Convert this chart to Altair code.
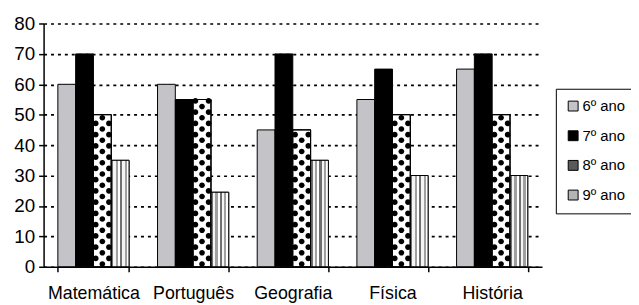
import altair as alt
import pandas as pd

subjects = ["Matemática", "Português", "Geografia", "Física", "História"]
series = ["6º ano", "7º ano", "8º ano", "9º ano"]
v6 = [60, 60, 45, 55, 65]
v7 = [70, 55, 70, 65, 70]
v8 = [50, 55, 45, 50, 50]
v9 = [35, 24.5, 35, 30, 30]

rows = []
for i, s in enumerate(subjects):
    for name, vals in zip(series, [v6, v7, v8, v9]):
        rows.append({"disciplina": s, "serie": name, "valor": vals[i]})
df = pd.DataFrame(rows)

# dot pattern for the 8º ano bars (decoration, derived from the bar values)
pitch = 1.85
dots_c, dots_s = [], []
for i, s in enumerate(subjects):
    k = 0
    while 0.9 + k * pitch < v8[i] - 0.4:
        y = 0.9 + k * pitch
        rec = {"disciplina": s, "serie": "8º ano", "valor": y}
        (dots_c if k % 2 == 0 else dots_s).append(rec)
        k += 1
dc = pd.DataFrame(dots_c)
ds = pd.DataFrame(dots_s)

# symbol shapes in the unit box [-1, 1]; size 324 -> box of 18 px
r = 0.32
def circ(cx):
    return (f"M {cx - r},0 A {r},{r} 0 1,0 {cx + r},0 A {r},{r} 0 1,0 {cx - r},0 Z ")
shape_c = circ(0)
shape_s = circ(-0.74) + circ(0.74)

font = "Liberation Sans"
xenc = alt.X("disciplina:N", sort=subjects, title=None,
             scale=alt.Scale(paddingInner=0.286, paddingOuter=0.143),
             axis=alt.Axis(labelAngle=0, labelFontSize=18, labelFont=font, labelColor="black",
                           tickBand="extent", tickColor="black", tickSize=5, tickWidth=1.5,
                           domainColor="black", domainWidth=1.5, labelPadding=13))
xoff = alt.XOffset("serie:N", sort=series, scale=alt.Scale(paddingInner=0, paddingOuter=0))
yenc = alt.Y("valor:Q", title=None,
             scale=alt.Scale(domain=[0, 80], nice=False),
             axis=alt.Axis(values=list(range(0, 90, 10)), labelFontSize=19, labelFont=font,
                           labelColor="black", tickColor="black", tickSize=5, tickWidth=1.5,
                           domainColor="black", domainWidth=1.5, labelPadding=4,
                           grid=True, gridColor="black", gridDash=[3, 4], gridWidth=1.7))

base = alt.Chart(df).mark_bar(stroke="black", strokeWidth=1).encode(
    x=xenc, xOffset=xoff, y=yenc,
    fill=alt.Fill("serie:N", sort=series,
                  scale=alt.Scale(domain=series, range=["#c4c4c8", "#000000", "#5a5a5a", "#b4b4b4"]),
                  legend=alt.Legend(title=None, orient="none", legendX=518, legendY=66,
                                    labelFont=font, labelFontSize=15, labelColor="black",
                                    symbolType="square", symbolSize=100, symbolStrokeColor="black",
                                    symbolStrokeWidth=1, symbolOpacity=1, rowPadding=14,
                                    labelOffset=2, padding=10, strokeColor="black",
                                    fillColor="white", labelLimit=200)),
)

b8 = alt.Chart(df).transform_filter(alt.datum.serie == "8º ano").mark_bar(
    fill="white", stroke="black", strokeWidth=1).encode(x=xenc, xOffset=xoff, y=yenc)

stops = []
cols = ["#707070", "#f4f4f4", "#a0a0a0", "#ffffff"]
n = 8
for j in range(n):
    c = cols[j % len(cols)]
    stops.append(alt.GradientStop(offset=j / n, color=c))
    stops.append(alt.GradientStop(offset=(j + 1) / n - 0.001, color=c))
b9 = alt.Chart(df).transform_filter(alt.datum.serie == "9º ano").mark_bar(
    color=alt.Gradient(gradient="linear", x1=0, x2=1, y1=0, y2=0, stops=stops),
    stroke="black", strokeWidth=1).encode(x=xenc, xOffset=xoff, y=yenc)

dotc = alt.Chart(dc).mark_point(filled=True, shape=shape_c, size=324, color="black",
                                opacity=1, strokeWidth=0).encode(x=xenc, xOffset=xoff, y=yenc)
dots = alt.Chart(ds).mark_point(filled=True, shape=shape_s, size=324, color="black",
                                opacity=1, strokeWidth=0).encode(x=xenc, xOffset=xoff, y=yenc)

outline8 = alt.Chart(df).transform_filter(alt.datum.serie == "8º ano").mark_bar(
    fillOpacity=0, stroke="black", strokeWidth=1).encode(x=xenc, xOffset=xoff, y=yenc)

chart = alt.layer(base, b8, b9, dotc, dots, outline8).properties(
    width=504, height=246,
    autosize=alt.AutoSizeParams(type="none"),
    padding={"left": 36, "top": 14, "right": 90, "bottom": 36},
).configure_view(stroke=None).configure_axis(gridOpacity=1)

chart.save("out.html", embed_options={"renderer": "svg", "actions": False})
